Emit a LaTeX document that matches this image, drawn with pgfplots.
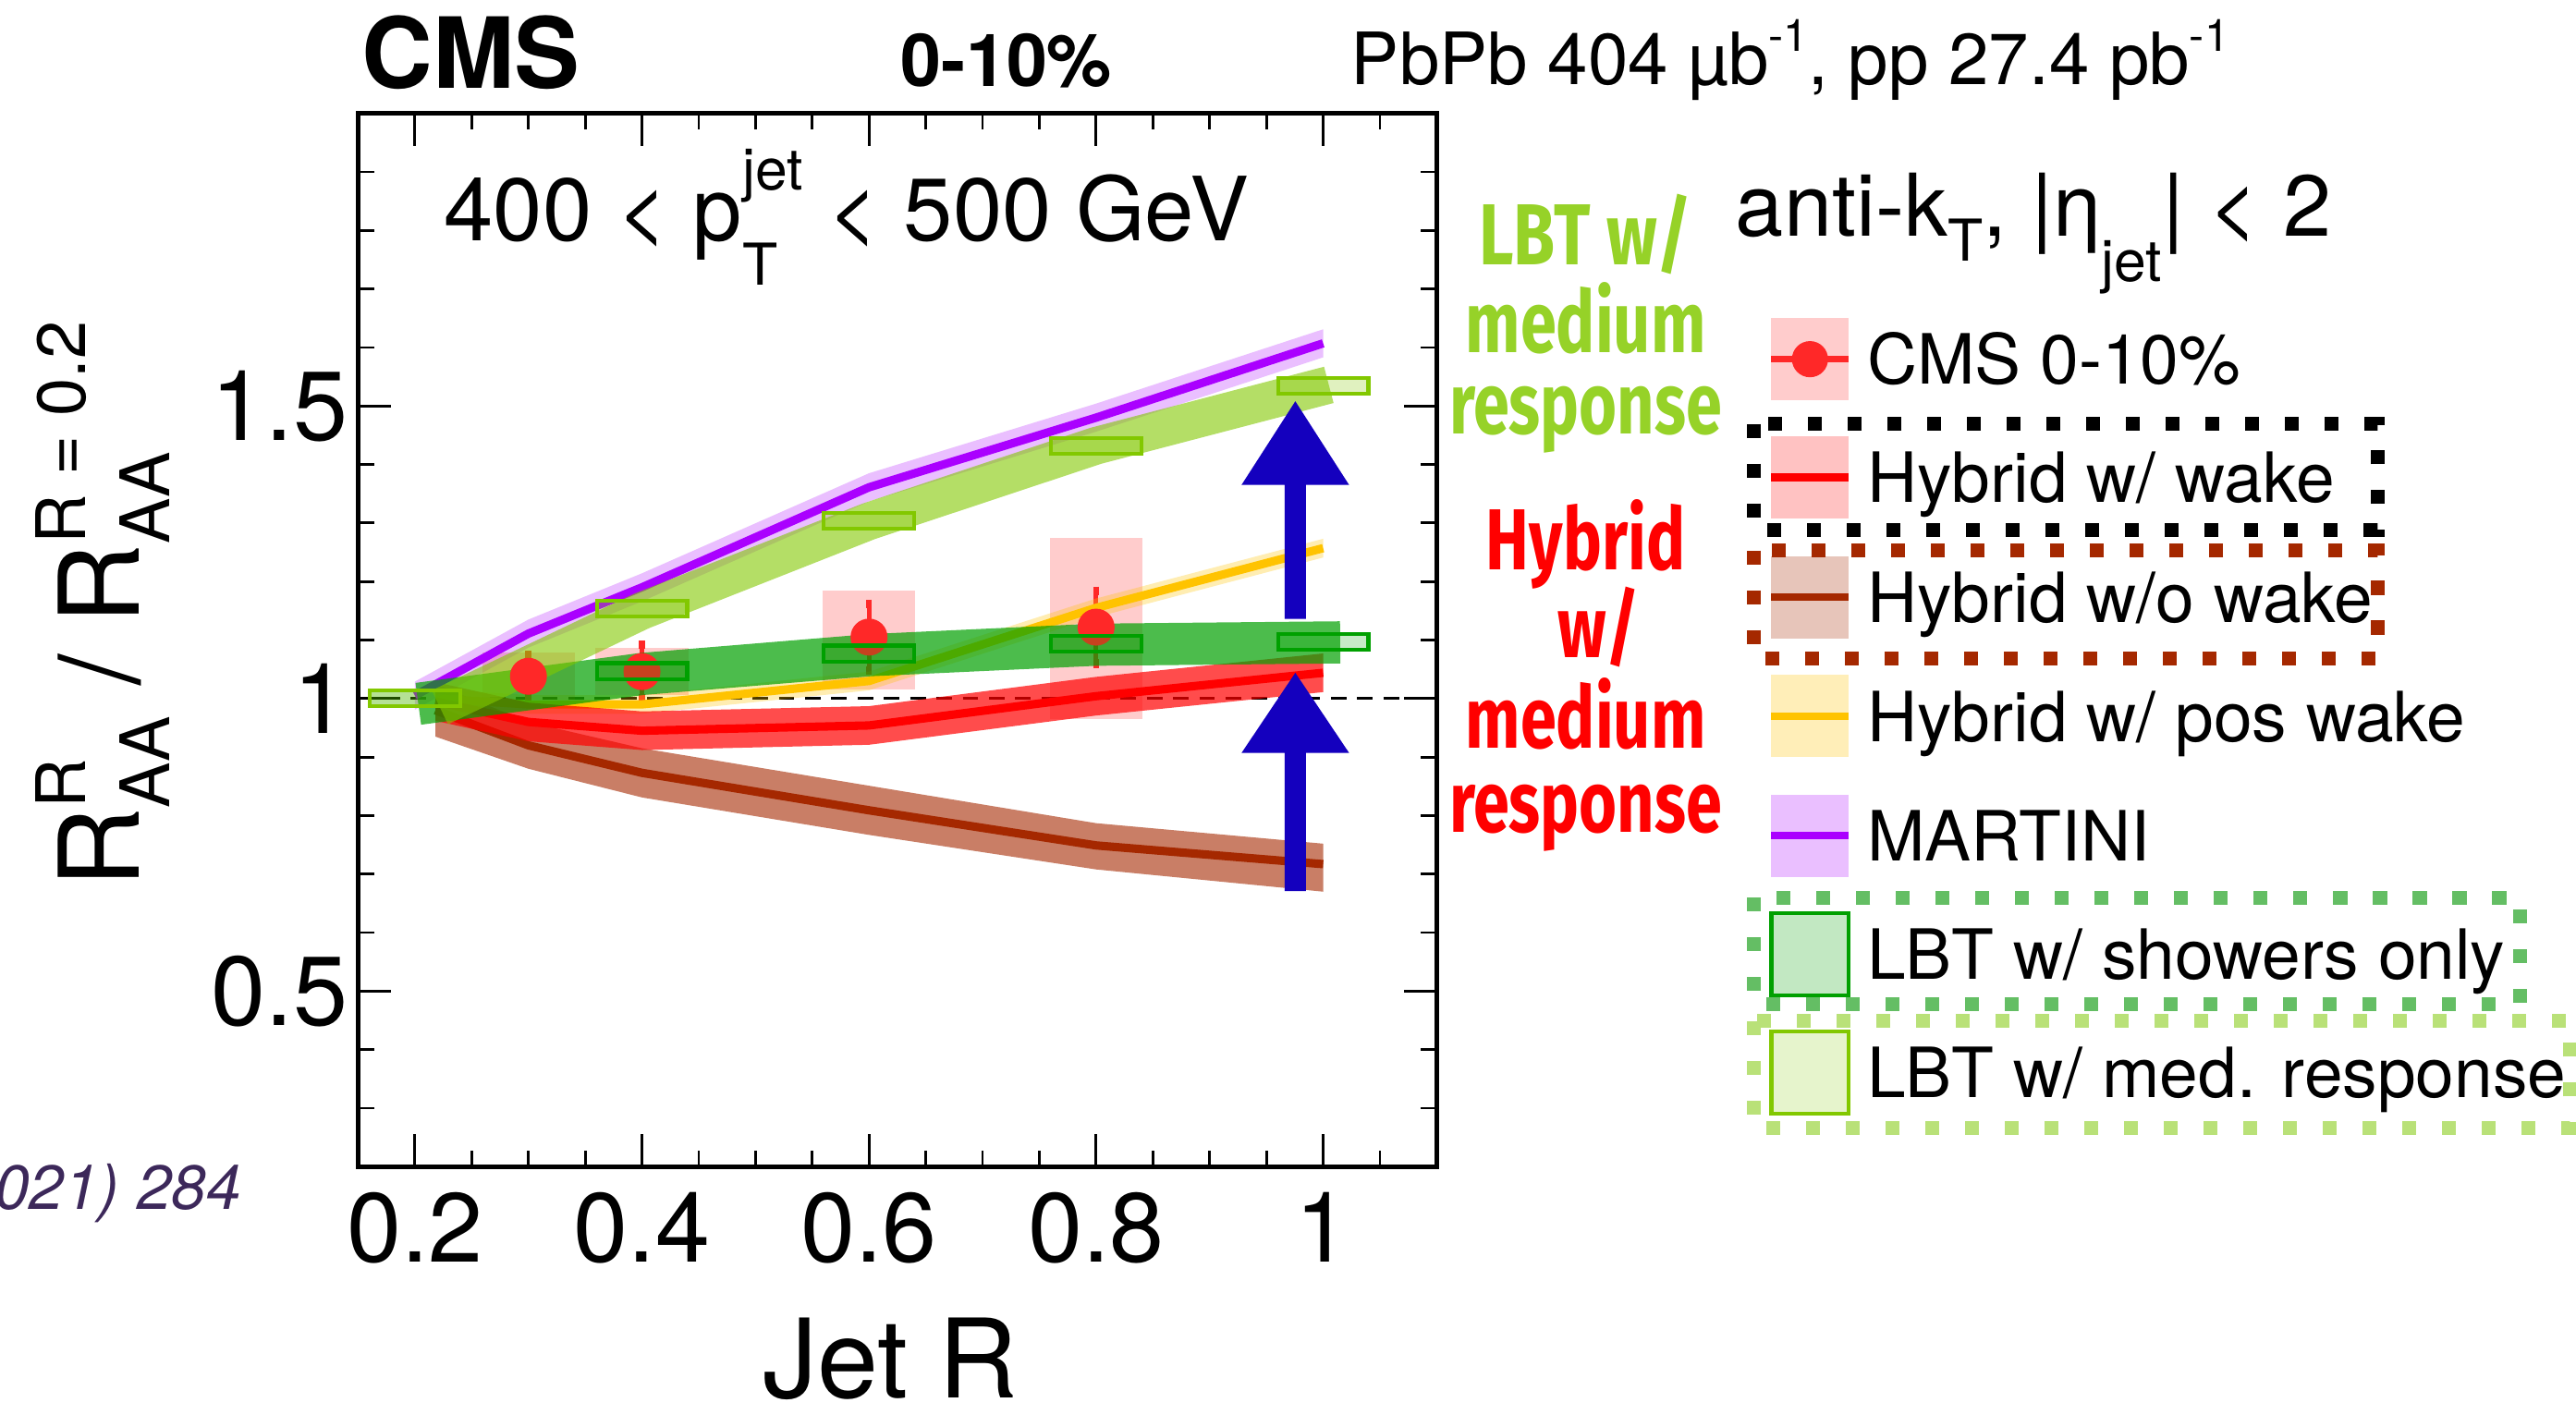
\documentclass[border=0pt]{standalone}
\usepackage{fontspec}
\setmainfont{TeX Gyre Heros}
\newfontfamily\hand{Fira Sans}
\usepackage{graphicx}
\usepackage{pgfplots}
\pgfplotsset{compat=1.18}

\definecolor{cmsred}{RGB}{255,40,40}
\definecolor{hred}{RGB}{255,0,0}
\definecolor{hbrown}{RGB}{165,40,0}
\definecolor{horange}{RGB}{255,195,0}
\definecolor{mpurple}{RGB}{170,0,255}
\definecolor{lbtlight}{RGB}{130,200,0}
\definecolor{lbtdark}{RGB}{0,160,0}
\definecolor{arrowblue}{RGB}{20,0,190}
\definecolor{handgreen}{RGB}{150,210,40}
\definecolor{refpurple}{RGB}{60,40,90}
\definecolor{dotgreen}{RGB}{100,190,100}
\definecolor{dotlight}{RGB}{185,225,120}
\definecolor{dotbrown}{RGB}{165,40,0}

\newsavebox\supbox
\newsavebox\subbox
\newlength\sswd
% #1 script size, #2 sup, #3 sub, #4 raise, #5 lower
\newcommand{\supsub}[5]{%
  \sbox\supbox{\fontsize{#1}{#1}\selectfont #2}%
  \sbox\subbox{\fontsize{#1}{#1}\selectfont #3}%
  \ifdim\wd\supbox>\wd\subbox \sswd=\wd\supbox \else \sswd=\wd\subbox\fi
  \makebox[\sswd][l]{\rlap{\raisebox{#4}{\usebox\supbox}}\raisebox{-#5}{\usebox\subbox}}}
\newcommand{\sups}[3]{\raisebox{#3}{\fontsize{#1}{#1}\selectfont #2}}

\pgfdeclareplotmark{lbtbox}{%
  \pgfpathrectangle{\pgfpoint{-0.551cm}{-0.096cm}}{\pgfpoint{1.102cm}{0.192cm}}%
  \pgfusepathqfillstroke}

\begin{document}
\begin{tikzpicture}
\begin{axis}[
  at={(4.36cm,3.016cm)}, anchor=south west,
  scale only axis, width=13.13cm, height=12.824cm,
  xmin=0.15, xmax=1.1, ymin=0.2, ymax=2.0,
  xtick={0.2,0.4,0.6,0.8,1},
  xticklabels={0.2,0.4,0.6,0.8,1},
  minor xtick={0.15,0.25,0.3,0.35,0.45,0.5,0.55,0.65,0.7,0.75,0.85,0.9,0.95,1.05,1.1},
  ytick={0.5,1,1.5},
  yticklabels={0.5,1,1.5},
  minor ytick={0.2,0.3,0.4,0.6,0.7,0.8,0.9,1.1,1.2,1.3,1.4,1.6,1.7,1.8,1.9,2.0},
  tick align=inside, tick pos=both,
  xticklabel pos=lower, yticklabel pos=left,
  major tick length=0.4cm, minor tick length=0.2cm,
  every major tick/.append style={line width=0.9pt, black},
  every minor tick/.append style={line width=0.9pt, black},
  axis line style={line width=1.4pt},
  tick label style={font=\fontsize{34}{34}\selectfont},
  xticklabel style={yshift=-0.19cm},
  /pgf/number format/assume math mode=true,
]
% reference line at 1
\addplot[black, line width=1.05pt, dash pattern=on 0.19cm off 0.13cm] coordinates {(0.15,1) (1.1,1)};

% CMS systematic boxes
\addplot[only marks, mark=none,
  error bars/.cd, y dir=both, y explicit, error mark=none,
  error bar style={line width=1.13cm, draw=hred, draw opacity=0.2}]
  coordinates {(0.3,1.038) +- (0,0.040) (0.4,1.046) +- (0,0.040) (0.6,1.100) +- (0,0.085) (0.8,1.120) +- (0,0.155)};

% CMS points
\addplot[only marks, mark=*, mark size=6.2pt, color=cmsred, mark options={draw=cmsred, fill=cmsred},
  error bars/.cd, y dir=both, y explicit, error mark=-,
  error bar style={line width=1.6pt, cmsred},
  error mark options={line width=2.1pt, mark size=1.5pt, cmsred}]
  coordinates {(0.3,1.038) +- (0,0.037) (0.4,1.046) +- (0,0.046) (0.6,1.105) +- (0,0.057) (0.8,1.122) +- (0,0.062)};

% Hybrid w/o wake
\addplot[fill=hbrown, fill opacity=0.6, draw=none] coordinates {
 (0.218,1.025) (0.3,0.960) (0.4,0.915) (0.6,0.851) (0.8,0.787) (1.0,0.752)
 (1.0,0.670) (0.8,0.708) (0.6,0.767) (0.4,0.831) (0.3,0.880) (0.218,0.935)} -- cycle;
\addplot[hbrown, line width=2.9pt] coordinates {(0.218,0.980) (0.3,0.920) (0.4,0.873) (0.6,0.809) (0.8,0.749) (1.0,0.717)};

% Hybrid w/ pos wake
\addplot[fill=horange, fill opacity=0.3, draw=none] coordinates {
 (0.218,1.016) (0.3,1.006) (0.4,1.006) (0.6,1.046) (0.8,1.171) (1.0,1.273)
 (1.0,1.241) (0.8,1.139) (0.6,1.014) (0.4,0.974) (0.3,0.974) (0.218,0.984)} -- cycle;
\addplot[horange, line width=2.9pt] coordinates {(0.218,1.0) (0.3,0.99) (0.4,0.99) (0.6,1.03) (0.8,1.155) (1.0,1.257)};

% Hybrid w/ wake
\addplot[fill=hred, fill opacity=0.7, draw=none] coordinates {
 (0.218,1.028) (0.3,0.993) (0.4,0.978) (0.6,0.987) (0.8,1.037) (1.0,1.077)
 (1.0,1.011) (0.8,0.971) (0.6,0.921) (0.4,0.912) (0.3,0.927) (0.218,0.962)} -- cycle;
\addplot[hred, line width=2.9pt] coordinates {(0.218,0.995) (0.3,0.960) (0.4,0.945) (0.6,0.954) (0.8,1.004) (1.0,1.044)};

% MARTINI
\addplot[fill=mpurple, fill opacity=0.25, draw=none] coordinates {
 (0.2,1.029) (0.3,1.135) (0.4,1.214) (0.6,1.385) (0.8,1.504) (1.0,1.631)
 (1.0,1.583) (0.8,1.456) (0.6,1.337) (0.4,1.166) (0.3,1.087) (0.2,0.981)} -- cycle;
\addplot[mpurple, line width=2.9pt] coordinates {(0.2,1.005) (0.3,1.111) (0.4,1.19) (0.6,1.361) (0.8,1.48) (1.0,1.607)};

% LBT w/ showers only
\addplot[lbtdark, draw opacity=0.7, line width=14.6pt, line join=miter]
  coordinates {(0.203,0.991) (0.4,1.042) (0.6,1.074) (0.8,1.092) (1.015,1.096)};
% LBT w/ med. response
\addplot[lbtlight, draw opacity=0.6, line width=13pt, line join=miter]
  coordinates {(0.222,0.985) (0.4,1.150) (0.6,1.303) (0.8,1.432) (1.005,1.536)};

% LBT boxes
\addplot[only marks, mark=lbtbox, mark options={draw=lbtdark, fill=lbtdark, fill opacity=0.22, line width=1.3pt}]
  coordinates {(0.2,1.0) (0.4,1.047) (0.6,1.077) (0.8,1.094) (1.0,1.097)};
\addplot[only marks, mark=lbtbox, mark options={draw=lbtlight, fill=lbtlight, fill opacity=0.25, line width=1.3pt}]
  coordinates {(0.2,1.0) (0.4,1.154) (0.6,1.304) (0.8,1.431) (1.0,1.534)};

% hand-drawn arrows
\fill[arrowblue] (0.9661,1.136) -- (0.9849,1.136) -- (0.9849,1.365) -- (1.0229,1.365) -- (0.9755,1.508) -- (0.9281,1.365) -- (0.9661,1.365) -- cycle;
\fill[arrowblue] (0.9661,0.671) -- (0.9849,0.671) -- (0.9849,0.907) -- (1.0229,0.907) -- (0.9755,1.044) -- (0.9281,0.907) -- (0.9661,0.907) -- cycle;
\end{axis}

\begin{scope}[x=0.02cm, y=-0.02cm, shift={(0cm,17.22cm)}]
% header
\node[anchor=base west, inner sep=0, font=\bfseries\fontsize{34}{34}\selectfont] at (220,53.5) {CMS};
\node[anchor=base west, inner sep=0, font=\bfseries\fontsize{25.3}{25.3}\selectfont] at (548,52.5) {0-10\%};
\node[anchor=base west, inner sep=0, font=\fontsize{25}{25}\selectfont] at (822,51.6) {PbPb 404 µb\sups{15.5}{-1}{0.47em}, pp 27.4 pb\sups{15.5}{-1}{0.47em}};
% inside text
\node[anchor=base west, inner sep=0, font=\fontsize{30.7}{30.7}\selectfont] at (270,146.3) {400 < p\supsub{20}{jet}{T}{0.57em}{0.5em} < 500 GeV};
% axis titles
\node[anchor=base, inner sep=0, font=\fontsize{38}{38}\selectfont] at (542,851) {Jet R};
\node[rotate=90, anchor=base, inner sep=0, font=\fontsize{38.5}{38.5}\selectfont] at (84.4,368) {R\supsub{23.7}{R}{AA}{0.48em}{0.275em} / R\supsub{23.7}{R = 0.2}{AA}{0.48em}{0.275em}};
% reference
\node[anchor=base east, inner sep=0, text=refpurple, font=\itshape\fontsize{21.6}{21.6}\selectfont] at (147,736.2) {JHEP 05 (2021) 284};
% legend header
\node[anchor=base west, inner sep=0, font=\fontsize{30}{30}\selectfont] at (1056,143.5) {anti-k\supsub{20}{}{T}{0em}{0.29em}, |η\supsub{20}{}{jet}{0em}{0.53em}| < 2};
% legend entries
\fill[hred, fill opacity=0.2] (1078,193.6) rectangle (1125,243.6);
\draw[cmsred, line width=2pt] (1078,218.6) -- (1125,218.6);
\fill[cmsred] (1101.5,218.6) circle[radius=11];
\node[anchor=base west, inner sep=0, font=\fontsize{24}{24}\selectfont] at (1136,234) {CMS 0-10\%};

\fill[hred, fill opacity=0.24] (1078,265.5) rectangle (1125,315.5);
\draw[hred, line width=2.6pt] (1078,290.5) -- (1125,290.5);
\node[anchor=base west, inner sep=0, font=\fontsize{24}{24}\selectfont] at (1136,305.9) {Hybrid w/ wake};

\fill[hbrown, fill opacity=0.27] (1078,338.5) rectangle (1125,388.5);
\draw[hbrown, line width=2.6pt] (1078,363.5) -- (1125,363.5);
\node[anchor=base west, inner sep=0, font=\fontsize{24}{24}\selectfont] at (1136,378.9) {Hybrid w/o wake};

\fill[horange, fill opacity=0.28] (1078,410.8) rectangle (1125,460.8);
\draw[horange, line width=2.6pt] (1078,435.8) -- (1125,435.8);
\node[anchor=base west, inner sep=0, font=\fontsize{24}{24}\selectfont] at (1136,451.2) {Hybrid w/ pos wake};

\fill[mpurple, fill opacity=0.25] (1078,483.6) rectangle (1125,533.6);
\draw[mpurple, line width=2.6pt] (1078,508.6) -- (1125,508.6);
\node[anchor=base west, inner sep=0, font=\fontsize{24}{24}\selectfont] at (1136,524) {MARTINI};

\fill[lbtdark, fill opacity=0.24] (1078,555.6) rectangle (1125,605.6);
\draw[lbtdark, line width=1.3pt] (1078,555.6) rectangle (1125,605.6);
\node[anchor=base west, inner sep=0, font=\fontsize{24}{24}\selectfont] at (1136,596) {LBT w/ showers only};

\fill[lbtlight, fill opacity=0.2] (1078,627.8) rectangle (1125,677.8);
\draw[lbtlight, line width=1.3pt] (1078,627.8) rectangle (1125,677.8);
\node[anchor=base west, inner sep=0, font=\fontsize{24}{24}\selectfont] at (1136,668.2) {LBT w/ med. response};

% dotted frames
\draw[black, line width=0.17cm, dash pattern=on 0.17cm off 0.314cm] (1067.5,258) rectangle (1447,322.5);
\draw[dotbrown, line width=0.17cm, dash pattern=on 0.17cm off 0.314cm] (1067.5,335) rectangle (1447,400.7);
\draw[dotgreen, line width=0.17cm, dash pattern=on 0.17cm off 0.314cm] (1067.5,546.3) rectangle (1533.7,611.4);
\draw[dotlight, line width=0.17cm, dash pattern=on 0.17cm off 0.314cm] (1067.5,621.3) rectangle (1564,686.4);

% handwritten annotations
\begin{scope}[every node/.style={anchor=base, inner sep=0, font=\hand\bfseries\fontsize{30}{30}\selectfont}]
\node[text=handgreen] at (965,161.4) {\scalebox{0.78}[1]{LBT w/}};
\node[text=handgreen] at (965,214.7) {\scalebox{0.75}[1]{medium}};
\node[text=handgreen] at (965,264) {\scalebox{0.75}[1]{response}};
\node[text=hred] at (965,347) {\scalebox{0.75}[1]{Hybrid}};
\node[text=hred] at (973,400) {\scalebox{0.75}[1]{w/}};
\node[text=hred] at (965,455.5) {\scalebox{0.75}[1]{medium}};
\node[text=hred] at (965,506.8) {\scalebox{0.75}[1]{response}};
\end{scope}
\end{scope}

\pgfresetboundingbox
\path[use as bounding box] (0,0) rectangle (31.36cm,17.22cm);
\end{tikzpicture}
\end{document}
